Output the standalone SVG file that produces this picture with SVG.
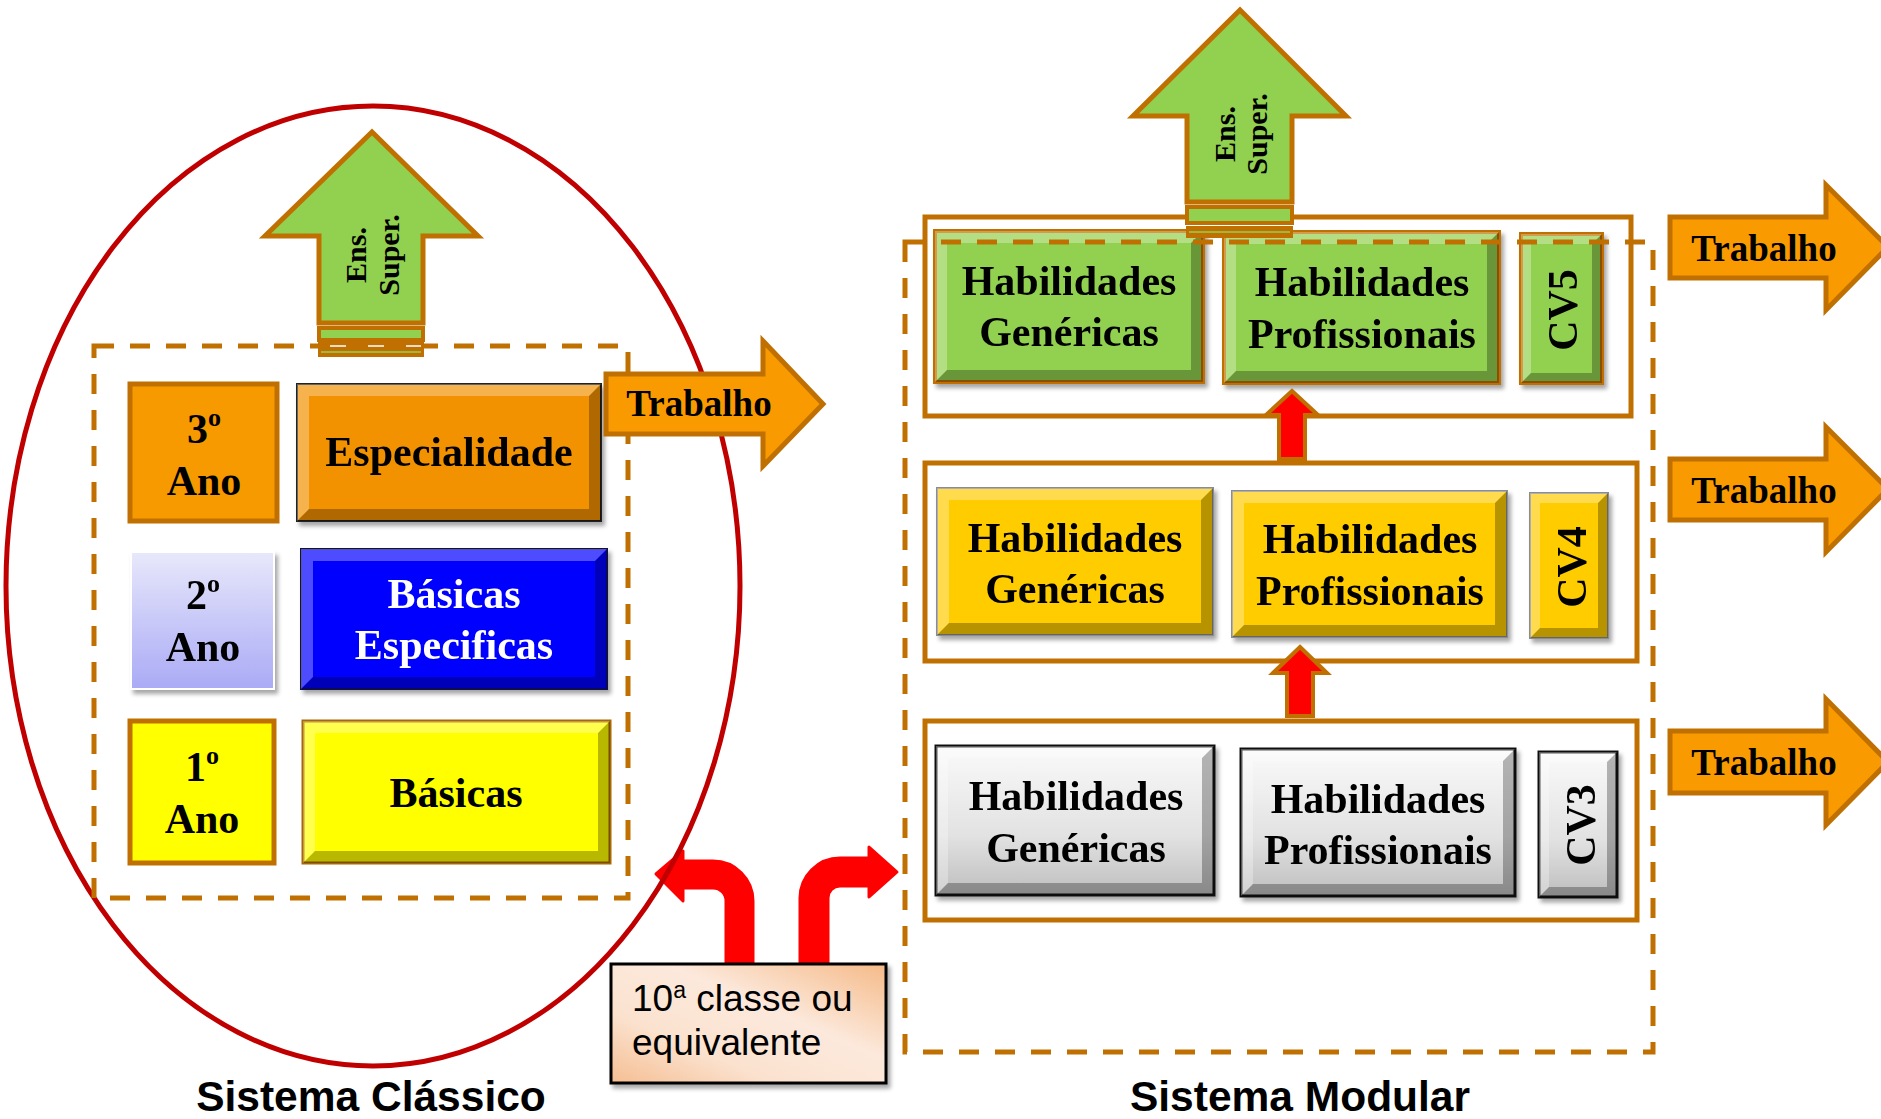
<svg xmlns="http://www.w3.org/2000/svg" width="1881" height="1119" viewBox="0 0 1881 1119">
<defs>
<style>
.tb{font-family:"Liberation Serif","Times New Roman",serif;font-weight:bold;font-size:42px;fill:#000;text-anchor:middle}
.tw{fill:#fff}
.ts{font-family:"Liberation Serif","Times New Roman",serif;font-weight:bold;font-size:30px;fill:#000;text-anchor:middle}
.tr{font-family:"Liberation Serif","Times New Roman",serif;font-weight:bold;font-size:37px;fill:#000;text-anchor:middle}
.sans{font-family:"Liberation Sans",Arial,sans-serif;font-size:37px;fill:#000}
.title{font-family:"Liberation Sans",Arial,sans-serif;font-weight:bold;font-size:42.5px;fill:#000;text-anchor:middle}
.dash{fill:none;stroke:#C07000;stroke-width:5;stroke-dasharray:20 16}
.cont{fill:none;stroke:#C07000;stroke-width:5}
.ob{stroke:#C07000;stroke-width:5}
.green{fill:#92D050;stroke:#C07000;stroke-width:4}
.gold{fill:#FFCC00;stroke:#8C8C8C;stroke-width:2}
.gray{fill:url(#gGray);stroke:#111;stroke-width:3}
.lt{fill:#fff;fill-opacity:0.3}
.dk{fill:#000;fill-opacity:0.28}
.work{fill:#F99B00;stroke:#C07000;stroke-width:5}
.up{fill:#92D050;stroke:#C07000;stroke-width:5}
.red{fill:#FF0000;stroke:#C07000;stroke-width:4}
.rc{fill:#FF0000;stroke:#FF0000;stroke-width:3;stroke-linejoin:round}
</style>
<linearGradient id="g2" x1="0" y1="0" x2="0" y2="1"><stop offset="0" stop-color="#E8E8FB"/><stop offset="1" stop-color="#AAAAF6"/></linearGradient>
<linearGradient id="gGray" x1="0" y1="0" x2="0" y2="1"><stop offset="0" stop-color="#FAFAFA"/><stop offset="0.6" stop-color="#E2E2E2"/><stop offset="1" stop-color="#BEBEBE"/></linearGradient>
<linearGradient id="g10" x1="1" y1="0" x2="0" y2="1"><stop offset="0" stop-color="#F5BA88"/><stop offset="0.4" stop-color="#FCE9DC"/><stop offset="0.7" stop-color="#FBE2CF"/><stop offset="1" stop-color="#F5BE92"/></linearGradient>
<filter id="sh" x="-10%" y="-10%" width="125%" height="130%"><feDropShadow dx="3" dy="4" stdDeviation="2" flood-color="#000" flood-opacity="0.35"/></filter>
</defs>

<g id="connectors">
<path class="rc" d="M726,965 L753,965 L753,901 A40,40 0 0 0 713,861 L683,861 L683,851 L656,874 L683,901 L683,888 L713,888 A13,13 0 0 1 726,901 Z"/>
<path class="rc" d="M800,965 L800,898 A40,40 0 0 1 840,858 L869,858 L869,847 L897,872 L869,897 L869,886 L840,886 A12,12 0 0 0 828,898 L828,965 Z"/>
</g>

<g id="sistema-classico">
<ellipse cx="373" cy="586" rx="367" ry="480" fill="none" stroke="#C00000" stroke-width="5"/>
<rect class="dash" x="94" y="346" width="534" height="552"/>
</g>

<g id="ano3">
<rect x="130" y="384" width="147" height="137" fill="#F79A00" class="ob"/>
<text class="tb" x="204" y="443">3<tspan font-size="26" dy="-17">o</tspan></text>
<text class="tb" x="204" y="495">Ano</text>
</g>
<g id="especialidade" filter="url(#sh)">
<rect x="297" y="384" width="304" height="137" fill="#F39200" stroke="#222" stroke-width="2"/>
<polygon class="lt" points="297,384 601,384 589,396 309,396 309,509 297,521"/>
<polygon class="dk" points="601,384 601,521 297,521 309,509 589,509 589,396"/>
<text class="tb" x="449" y="466">Especialidade</text>
</g>
<g id="ano2" filter="url(#sh)">
<rect x="131" y="552" width="143" height="137" fill="url(#g2)" stroke="#fff" stroke-width="2"/>
<text class="tb" x="203" y="609">2<tspan font-size="26" dy="-17">o</tspan></text>
<text class="tb" x="203" y="661">Ano</text>
</g>
<g id="basicas-especificas" filter="url(#sh)">
<rect x="301" y="549" width="306" height="140" fill="#0000FF" stroke="#10105A" stroke-width="2"/>
<polygon class="lt" points="301,549 607,549 595,561 313,561 313,677 301,689"/>
<polygon class="dk" points="607,549 607,689 301,689 313,677 595,677 595,561"/>
<text class="tb tw" x="454" y="608">Básicas</text>
<text class="tb tw" x="454" y="659">Especificas</text>
</g>
<g id="ano1">
<rect x="130" y="721" width="144" height="142" fill="#FFFF00" class="ob"/>
<text class="tb" x="202" y="781">1<tspan font-size="26" dy="-17">o</tspan></text>
<text class="tb" x="202" y="833">Ano</text>
</g>
<g id="basicas">
<rect x="303" y="721" width="307" height="142" fill="#FFFF00" stroke="#A86A00" stroke-width="3"/>
<polygon class="lt" points="303,721 610,721 598,733 315,733 315,851 303,863"/>
<polygon class="dk" points="610,721 610,863 303,863 315,851 598,851 598,733"/>
<text class="tb" x="456" y="807">Básicas</text>
</g>

<g id="ens-super-classico">
<polygon class="up" points="372,132 478,236 423,236 423,323 319,323 319,236 265,236"/>
<rect x="319" y="328" width="104" height="12" fill="#92D050" stroke="#C07000" stroke-width="4"/>
<rect x="319" y="342" width="104" height="14" fill="#C07000" stroke="#C07000" stroke-width="2"/>
<line x1="321" y1="352" x2="421" y2="352" stroke="#92D050" stroke-width="1.5"/>
<line x1="330" y1="346" x2="421" y2="346" stroke="#fff" stroke-width="1.5" stroke-dasharray="16 22"/>
<g transform="translate(372,255) rotate(-90)">
<text class="ts" x="0" y="-6">Ens.</text>
<text class="ts" x="0" y="27">Super.</text>
</g>
</g>

<g id="trabalho-classico">
<polygon class="work" points="606,374 763,374 763,341 823,404 763,466 763,434 606,434"/>
<text class="tr" x="699" y="416">Trabalho</text>
</g>

<g id="cv5-row">
<rect class="cont" x="925" y="217" width="706" height="199"/>
</g>
<g id="cv4-row">
<rect class="cont" x="925" y="463" width="712" height="198"/>
</g>
<g id="cv3-row">
<rect class="cont" x="925" y="721" width="712" height="199"/>
</g>

<g id="hg5" filter="url(#sh)">
<rect class="green" x="935" y="231" width="268" height="151"/>
<polygon class="lt" points="935,231 1203,231 1191,243 947,243 947,370 935,382"/>
<polygon class="dk" points="1203,231 1203,382 935,382 947,370 1191,370 1191,243"/>
<text class="tb" x="1069" y="295">Habilidades</text>
<text class="tb" x="1069" y="346">Genéricas</text>
</g>
<g id="hp5" filter="url(#sh)">
<rect class="green" x="1224" y="232" width="275" height="151"/>
<polygon class="lt" points="1224,232 1499,232 1487,244 1236,244 1236,371 1224,383"/>
<polygon class="dk" points="1499,232 1499,383 1224,383 1236,371 1487,371 1487,244"/>
<text class="tb" x="1362" y="296">Habilidades</text>
<text class="tb" x="1362" y="348">Profissionais</text>
</g>
<g id="cv5" filter="url(#sh)">
<rect class="green" x="1521" y="234" width="81" height="149"/>
<polygon class="lt" points="1521,234 1602,234 1592,244 1531,244 1531,373 1521,383"/>
<polygon class="dk" points="1602,234 1602,383 1521,383 1531,373 1592,373 1592,244"/>
<text class="tb" transform="translate(1562,310) rotate(-90)" x="0" y="15">CV5</text>
</g>

<g id="hg4" filter="url(#sh)">
<rect class="gold" x="937" y="488" width="276" height="147"/>
<polygon class="lt" points="937,488 1213,488 1201,500 949,500 949,623 937,635"/>
<polygon class="dk" points="1213,488 1213,635 937,635 949,623 1201,623 1201,500"/>
<text class="tb" x="1075" y="552">Habilidades</text>
<text class="tb" x="1075" y="603">Genéricas</text>
</g>
<g id="hp4" filter="url(#sh)">
<rect class="gold" x="1232" y="491" width="275" height="146"/>
<polygon class="lt" points="1232,491 1507,491 1495,503 1244,503 1244,625 1232,637"/>
<polygon class="dk" points="1507,491 1507,637 1232,637 1244,625 1495,625 1495,503"/>
<text class="tb" x="1370" y="553">Habilidades</text>
<text class="tb" x="1370" y="605">Profissionais</text>
</g>
<g id="cv4" filter="url(#sh)">
<rect class="gold" x="1530" y="493" width="78" height="145"/>
<polygon class="lt" points="1530,493 1608,493 1598,503 1540,503 1540,628 1530,638"/>
<polygon class="dk" points="1608,493 1608,638 1530,638 1540,628 1598,628 1598,503"/>
<text class="tb" transform="translate(1571,567) rotate(-90)" x="0" y="15">CV4</text>
</g>

<g id="hg3" filter="url(#sh)">
<rect class="gray" x="936" y="746" width="278" height="149"/>
<polygon class="lt" points="936,746 1214,746 1202,758 948,758 948,883 936,895"/>
<polygon class="dk" points="1214,746 1214,895 936,895 948,883 1202,883 1202,758"/>
<text class="tb" x="1076" y="810">Habilidades</text>
<text class="tb" x="1076" y="862">Genéricas</text>
</g>
<g id="hp3" filter="url(#sh)">
<rect class="gray" x="1241" y="749" width="274" height="147"/>
<polygon class="lt" points="1241,749 1515,749 1503,761 1253,761 1253,884 1241,896"/>
<polygon class="dk" points="1515,749 1515,896 1241,896 1253,884 1503,884 1503,761"/>
<text class="tb" x="1378" y="813">Habilidades</text>
<text class="tb" x="1378" y="864">Profissionais</text>
</g>
<g id="cv3" filter="url(#sh)">
<rect class="gray" x="1539" y="752" width="78" height="145"/>
<polygon class="lt" points="1539,752 1617,752 1607,762 1549,762 1549,887 1539,897"/>
<polygon class="dk" points="1617,752 1617,897 1539,897 1549,887 1607,887 1607,762"/>
<text class="tb" transform="translate(1580,825) rotate(-90)" x="0" y="15">CV3</text>
</g>

<g id="sistema-modular">
<rect class="dash" x="905" y="242" width="748" height="810"/>
</g>

<g id="ens-super-modular">
<polygon class="up" points="1240,10 1346,116 1292,116 1292,202 1187,202 1187,116 1133,116"/>
<rect x="1187" y="207" width="105" height="16" fill="#92D050" stroke="#C07000" stroke-width="4"/>
<rect x="1187" y="227" width="105" height="10" fill="#C07000" stroke="#C07000" stroke-width="2"/>
<line x1="1189" y1="232" x2="1290" y2="232" stroke="#92D050" stroke-width="1.5"/>
<g transform="translate(1240,134) rotate(-90)">
<text class="ts" x="0" y="-5">Ens.</text>
<text class="ts" x="0" y="27">Super.</text>
</g>
</g>

<g id="up-arrows">
<polygon class="red" points="1292,391 1318,415 1305,415 1305,459 1279,459 1279,415 1266,415"/>
<polygon class="red" points="1300,647 1327,673 1313,673 1313,716 1287,716 1287,673 1273,673"/>
</g>

<g id="trabalho-cv5">
<polygon class="work" points="1670,217 1826,217 1826,185 1888,247 1826,310 1826,278 1670,278"/>
<text class="tr" x="1764" y="261">Trabalho</text>
</g>
<g id="trabalho-cv4">
<polygon class="work" points="1670,459 1826,459 1826,427 1888,489 1826,552 1826,520 1670,520"/>
<text class="tr" x="1764" y="503">Trabalho</text>
</g>
<g id="trabalho-cv3">
<polygon class="work" points="1670,731 1826,731 1826,699 1888,762 1826,825 1826,793 1670,793"/>
<text class="tr" x="1764" y="775">Trabalho</text>
</g>

<g id="decima-classe">
<rect x="611" y="964" width="275" height="119" fill="url(#g10)" stroke="#000" stroke-width="3" filter="url(#sh)"/>
<text class="sans" x="632" y="1011">10<tspan font-size="23" dy="-13">a</tspan><tspan dy="13"> classe ou</tspan></text>
<text class="sans" x="632" y="1055">equivalente</text>
</g>

<text class="title" x="371" y="1111">Sistema Clássico</text>
<text class="title" x="1300" y="1111">Sistema Modular</text>
</svg>
